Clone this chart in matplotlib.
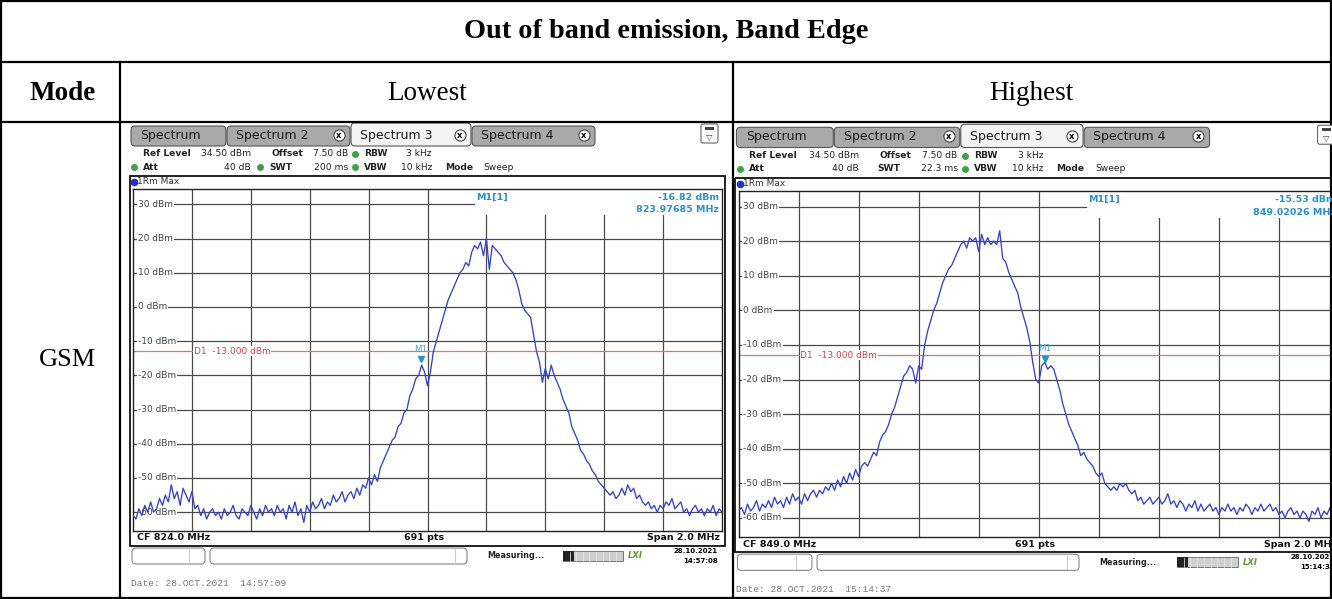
import numpy as np
import matplotlib
matplotlib.use("Agg")
import matplotlib.pyplot as plt
from matplotlib.patches import Rectangle, FancyBboxPatch

W, H = 1332, 599

# ---- values ----
lo_span = (823.0, 825.0)
lo_trace = [
    -61, -62, -59, -61, -58, -60, -57, -60, -59, -56,
    -58, -55, -57, -52, -56, -54, -58, -53, -55, -57,
    -54, -59, -58, -61, -59, -62, -60, -59, -61, -60,
    -62, -59, -61, -60, -58, -61, -62, -59, -60, -61,
    -58, -60, -62, -59, -61, -58, -60, -59, -61, -58,
    -60, -59, -62, -58, -60, -57, -61, -59, -63, -58,
    -60, -57, -59, -58, -56, -59, -57, -58, -55, -57,
    -56, -54, -57, -55, -54, -56, -53, -55, -52, -53,
    -50, -52, -49, -51, -47, -45, -43, -41, -39, -38,
    -35, -34, -31, -30, -26, -24, -21, -20, -17, -19,
    -23, -19, -13, -10, -7, -4, -1, 2, 4, 6,
    8, 10, 11, 13, 12, 16, 18, 17, 19, 15,
    20, 11, 18, 17, 16, 15, 13, 12, 11, 10,
    8, 5, 1, -1, -2, -3, -8, -13, -16, -22,
    -18, -21, -17, -20, -22, -24, -27, -29, -31, -35,
    -37, -39, -42, -43, -45, -46, -48, -49, -51, -52,
    -53, -54, -55, -54, -56, -55, -53, -55, -52, -54,
    -53, -56, -55, -57, -58, -57, -59, -58, -60, -58,
    -59, -57, -58, -56, -59, -58, -57, -60, -59, -61,
    -59, -58, -60, -59, -61, -59, -60, -58, -61, -59,
    -60]

hi_span = (848.0, 850.0)
hi_trace = [
    -58, -57, -59, -56, -58, -57, -55, -58, -56, -57,
    -55, -57, -54, -56, -55, -57, -54, -56, -53, -55,
    -54, -56, -53, -55, -53, -52, -54, -52, -53, -51,
    -52, -50, -52, -49, -51, -48, -50, -47, -49, -46,
    -48, -45, -44, -45, -43, -41, -42, -38, -36, -35,
    -33, -30, -28, -25, -22, -19, -18, -16, -17, -21,
    -16, -17, -10, -6, -3, 0, 2, 5, 8, 10,
    12, 13, 15, 17, 19, 20, 18, 21, 20, 21,
    17, 22, 19, 21, 19, 20, 19, 23, 15, 14,
    11, 9, 7, 5, 1, -2, -5, -9, -15, -20,
    -21, -16, -15, -17, -16, -17, -20, -23, -27, -30,
    -33, -35, -37, -39, -42, -41, -43, -44, -45, -47,
    -48, -47, -50, -51, -52, -51, -52, -50, -51, -50,
    -52, -53, -52, -55, -54, -56, -55, -54, -56, -55,
    -54, -56, -55, -53, -56, -55, -57, -55, -56, -58,
    -56, -57, -55, -58, -56, -58, -57, -56, -58, -57,
    -59, -57, -58, -56, -58, -57, -59, -57, -58, -56,
    -57, -59, -57, -58, -56, -58, -57, -56, -58, -57,
    -59, -58, -60, -58, -57, -59, -58, -60, -58, -59,
    -61, -58, -59, -57, -60, -58, -59, -57, -60, -58,
    -59]

levels = [30, 20, 10, 0, -10, -20, -30, -40, -50, -60]
ref_level = 34.5
bottom_level = -65.5
d1_limit = -13.0
lo_marker = (823.97685, -16.82)
hi_marker = (849.02026, -15.53)

plt.rcParams["font.family"] = ["DejaVu Sans"]
SERIF = "Liberation Serif"
GRID = "#4a4a4a"
TRACE = "#3442c8"
MK = "#2a8fcc"

fig = plt.figure(figsize=(W / 100, H / 100), dpi=100)


def px_axes(x0, y0, x1, y1, z):
    return fig.add_axes([x0 / W, 1 - y1 / H, (x1 - x0) / W, (y1 - y0) / H], zorder=z)


ov = px_axes(0, 0, W, H, 5)
ov.set_xlim(0, W)
ov.set_ylim(H, 0)
ov.axis("off")

# table
ov.add_patch(Rectangle((1, 1), W - 2, H - 2, fill=False, lw=1.6, ec="black"))
for y in (62, 122):
    ov.plot([1, W - 1], [y, y], color="black", lw=1.6)
for x in (120, 733):
    ov.plot([x, x], [62, H - 1], color="black", lw=1.6)
ov.text(666, 32, "Out of band emission, Band Edge", family=SERIF, weight="bold",
        size=20.3, ha="center", va="center")
ov.text(63, 93, "Mode", family=SERIF, weight="bold", size=19.5, ha="center", va="center")
ov.text(427, 93, "Lowest", family=SERIF, size=19.5, ha="center", va="center")
ov.text(1031, 93, "Highest", family=SERIF, size=19.5, ha="center", va="center")
ov.text(68, 360, "GSM", family=SERIF, size=19, ha="center", va="center")


def panel(gx0, gy0, sx, sy, span, trace, marker, swt, swt_dot, cf, stamp, date_line):
    X = lambda x: gx0 + (x - 133) * sx
    Y = lambda y: gy0 + (y - 189) * sy

    # tabs
    tabs = [("Spectrum", 131, 226, False, False), ("Spectrum 2", 227, 350, True, False),
            ("Spectrum 3", 351, 471, True, True), ("Spectrum 4", 472, 595, True, False)]
    for name, l, r, close, active in tabs:
        top = 123 if active else 126
        ov.add_patch(FancyBboxPatch((X(l), Y(top)), X(r) - X(l), Y(146) - Y(top),
                                    boxstyle="round,pad=0,rounding_size=4",
                                    fc="#f4f4f4" if active else "#a9a9a9", ec="#555", lw=0.8))
        ov.text(X(l + 9), Y(135.5), name, size=9, color="#1a1a1a", va="center")
        if close:
            ov.plot(X(r - 11), Y(135), marker="o", ms=8, mfc="white", mec="#444", mew=0.8)
            ov.text(X(r - 11), Y(135), "x", size=6, weight="bold", ha="center", va="center")
    ov.add_patch(FancyBboxPatch((X(701), Y(124)), 17, 19, boxstyle="round,pad=0,rounding_size=2",
                                fc="white", ec="#666", lw=0.8))
    ov.add_patch(Rectangle((X(705), Y(127)), 9, 3, fc="#444", ec="none"))
    ov.text(X(709.5), Y(137), "▽", size=6, ha="center", va="center", color="#444")

    # settings header
    hs = 6.6
    for txt, x, y, bold, align in [
            ("Ref Level", 143, 154, True, "left"), ("34.50 dBm", 251, 154, False, "right"),
            ("Offset", 271, 154, True, "left"), ("7.50 dB", 348, 154, False, "right"),
            ("RBW", 364, 154, True, "left"), ("3 kHz", 432, 154, False, "right"),
            ("Att", 143, 167, True, "left"), ("40 dB", 251, 167, False, "right"),
            ("SWT", 269, 167, True, "left"), (swt, 348, 167, False, "right"),
            ("VBW", 364, 167, True, "left"), ("10 kHz", 432, 167, False, "right"),
            ("Mode", 445, 167, True, "left"), ("Sweep", 483, 167, False, "left")]:
        ov.text(X(x), Y(y), txt, size=hs, weight="bold" if bold else "normal",
                ha=align, va="center", color="#222")
    dots = [(355, 154), (134, 167), (355, 167)] + ([(260, 167)] if swt_dot else [])
    for x, y in dots:
        ov.plot(X(x), Y(y), marker="o", ms=4, color="#3da345")

    # trace frame
    ov.add_patch(Rectangle((X(130), Y(176)), X(725) - X(130), Y(546) - Y(176),
                           fill=False, ec="#111", lw=1.3))
    ov.plot(X(134), Y(182), marker="o", ms=4.5, color="#2233cc")
    ov.text(X(137), Y(182), "1Rm Max", size=6.5, va="center", color="#333")

    ax = px_axes(X(133), Y(189), X(722), Y(531), 1)
    f0, f1 = span
    freqs = np.linspace(f0, f1, len(trace))
    ax.set_xlim(f0, f1)
    ax.set_ylim(bottom_level, ref_level)
    ax.set_xticks([])
    ax.set_yticks([])
    for s in ax.spines.values():
        s.set_color("#222")
        s.set_linewidth(1.0)
    box_frac = (474 - 133) / 589
    box_top = (26.8 - bottom_level) / (ref_level - bottom_level)
    for v in levels:
        ax.axhline(v, xmax=box_frac if v == 30 else 1, color=GRID, lw=0.9, zorder=1)
        ax.text(0.008, v, f"{v} dBm", transform=ax.get_yaxis_transform(), size=6.5,
                color="#444", va="center", zorder=2,
                bbox=dict(fc="white", ec="none", pad=0.8))
    for k in range(1, 10):
        ax.axvline(f0 + k * (f1 - f0) / 10, ymax=1 if k / 10 < box_frac else box_top,
                   color=GRID, lw=0.9, zorder=1)
    ax.axhline(d1_limit, color="#e87070", lw=0.9, zorder=2)
    ax.text(0.103, d1_limit, "D1  -13.000 dBm", transform=ax.get_yaxis_transform(),
            size=6.5, color="#d64545", va="center", zorder=2.5,
            bbox=dict(fc="white", ec="none", pad=0.3))
    ax.plot(freqs, trace, color=TRACE, lw=0.95, zorder=4)
    mf, mv = marker
    ax.plot(mf, mv + 1.6, marker="v", ms=4.5, color="#1d94cf", zorder=5)
    ax.text(mf, mv + 4.4, "M1", ha="center", va="center", size=6.3, color="#4aa8d0", zorder=5)

    # marker readout
    ov.text(X(476), Y(197), "M1[1]", size=6.8, color=MK, weight="bold", va="center")
    ov.text(X(719), Y(197), f"{mv:.2f} dBm", size=6.8, color=MK, weight="bold",
            ha="right", va="center")
    ov.text(X(719), Y(210), f"{mf:.5f} MHz", size=6.8, color=MK, weight="bold",
            ha="right", va="center")

    # footer of the trace window
    ov.text(X(137), Y(538), cf, size=6.8, weight="bold", va="center", color="#111")
    ov.text(X(424), Y(538), "691 pts", size=6.8, weight="bold", ha="center", va="center",
            color="#111")
    ov.text(X(720), Y(538), "Span 2.0 MHz", size=6.8, weight="bold", ha="right",
            va="center", color="#111")

    # status bar
    for l, r, d in ((132, 205, 189), (210, 467, 455)):
        ov.add_patch(FancyBboxPatch((X(l), Y(548)), X(r) - X(l), Y(564) - Y(548),
                                    boxstyle="round,pad=0,rounding_size=4",
                                    fc="white", ec="#888", lw=0.8))
        ov.plot([X(d), X(d)], [Y(549), Y(563)], color="#ccc", lw=0.8)
    ov.text(X(487), Y(556), "Measuring...", size=5.8, weight="bold", va="center", color="#222")
    ov.add_patch(Rectangle((X(563), Y(551)), X(623) - X(563), Y(561) - Y(551),
                           fc="#cfcfcf", ec="#666", lw=0.6))
    ov.add_patch(Rectangle((X(563), Y(551)), X(574) - X(563), Y(561) - Y(551),
                           fc="#222", ec="none"))
    for k in range(1, 9):
        xx = X(563 + k * 6.6)
        ov.plot([xx, xx], [Y(551.5), Y(560.5)], color="#eee", lw=0.5)
    ov.text(X(628), Y(556), "LXI", size=6, weight="bold", style="italic",
            color="#5a9a30", va="center")
    ov.text(X(718), Y(551), "28.10.2021", size=5, weight="bold", ha="right", va="center")
    ov.text(X(718), Y(561), stamp, size=5, weight="bold", ha="right", va="center")
    ov.text(X(131), Y(583), date_line, size=6.8, family="Liberation Mono",
            color="#777", va="center")


panel(133, 189, 1.0, 1.0, lo_span, lo_trace, lo_marker, "200 ms", True,
      "CF 824.0 MHz", "14:57:08", "Date: 28.OCT.2021  14:57:09")
panel(738.5, 191, 600.5 / 589, 346 / 342, hi_span, hi_trace, hi_marker, "22.3 ms", False,
      "CF 849.0 MHz", "15:14:36", "Date: 28.OCT.2021  15:14:37")

fig.savefig("out.png", dpi=100, facecolor="white")
